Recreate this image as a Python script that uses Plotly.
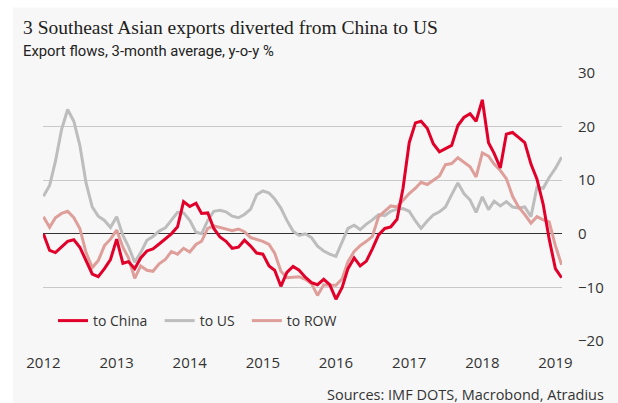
import pandas as pd
import plotly.graph_objects as go

# ---- data (monthly, Jan 2012 - Feb 2019, 3-month avg y-o-y %) ----
dates = pd.date_range("2012-01-01", periods=86, freq="MS")

to_china = [
    0.0, -3.1, -3.5, -2.5, -1.4, -1.1, -2.5, -5.0, -7.5, -8.0,
    -6.5, -4.8, -1.0, -5.5, -5.2, -6.5, -4.5, -3.2, -2.8, -1.9,
    -1.0, 0.0, 1.3, 6.0, 5.1, 5.7, 3.8, 3.9, 1.0, -0.6,
    -1.4, -2.7, -2.5, -1.2, -2.3, -3.6, -3.8, -6.0, -6.8, -9.8,
    -7.2, -6.1, -6.8, -8.1, -9.1, -9.5, -8.5, -9.5, -12.2, -10.0,
    -6.5, -4.5, -6.0, -5.1, -2.8, -0.2, 1.0, 1.3, 2.7, 8.5,
    17.0, 20.7, 21.0, 19.7, 16.8, 15.3, 15.9, 16.5, 20.2, 21.7,
    22.4, 21.0, 25.0, 17.0, 15.0, 12.3, 18.6, 18.9, 18.0, 17.0,
    13.0, 10.2, 5.5, -1.0, -6.5, -8.2,
]
to_us = [
    7.0, 9.0, 13.5, 19.5, 23.2, 21.0, 16.5, 9.5, 5.0, 3.3,
    2.5, 1.2, 3.2, -0.3, -2.4, -5.3, -3.5, -1.2, -0.5, 0.5,
    1.1, 2.6, 4.0, 3.9, 2.5, 0.3, 0.0, 2.5, 4.2, 4.4,
    4.1, 3.3, 3.0, 3.6, 4.6, 7.3, 8.0, 7.6, 6.5, 4.8,
    2.5, 0.5, -0.3, 0.0, -0.7, -2.3, -3.2, -3.8, -4.2, -1.5,
    1.0, 1.6, 0.8, 1.8, 2.6, 3.6, 3.4, 4.2, 4.6, 4.7,
    4.2, 2.4, 1.0, 2.4, 3.5, 4.1, 5.0, 7.3, 9.5, 7.5,
    6.3, 4.0, 6.9, 4.5, 6.1, 5.2, 6.0, 5.0, 4.8, 5.0,
    3.2, 8.7, 8.5, 10.5, 12.2, 14.3,
]
to_row = [
    3.2, 1.2, 3.0, 3.8, 4.2, 3.0, 1.0, -3.5, -6.3, -5.0,
    -2.2, -1.0, 0.7, -2.5, -4.5, -8.3, -6.0, -6.8, -7.0, -5.6,
    -4.8, -3.3, -3.8, -2.7, -3.4, -2.0, -1.4, 1.0, 1.5, 1.2,
    1.0, 0.6, 0.9, 0.4, -0.7, -1.1, -1.4, -2.0, -3.6, -7.0,
    -8.2, -8.1, -8.0, -8.5, -9.3, -11.5, -9.5, -9.6, -9.6, -8.4,
    -5.2, -3.3, -2.2, -1.4, -0.5, 3.2, 4.2, 5.2, 5.0, 6.2,
    7.5, 8.5, 9.6, 9.2, 10.0, 10.8, 12.9, 13.1, 14.2, 13.3,
    12.5, 10.6, 15.1, 14.5, 13.0, 11.8, 10.3, 7.0, 5.0, 3.6,
    2.0, 3.2, 2.6, 2.2, -2.2, -5.8,
]

series_names = ["to China", "to US", "to ROW"]
series_colors = ["#e1002a", "#bdbdbd", "#de9e9a"]
y_ticks = [-20, -10, 0, 10, 20, 30]

title_text = "3 Southeast Asian exports diverted from China to US"
subtitle_text = "Export flows, 3-month average, y-o-y %"
source_text = "Sources: IMF DOTS, Macrobond, Atradius"

# ---- layout geometry (pixels) ----
W, H = 618, 403
ML, MR, MT, MB = 43, 56, 73, 62
PW, PH = W - ML - MR, H - MT - MB


def px_x(px):
    return (px - ML) / PW


def px_y(py):
    return (H - MB - py) / PH


NBSP = "\u00a0"

fig = go.Figure()

# draw order: US (back), ROW, China (front); legend order China, US, ROW
order = [1, 2, 0]
all_vals = [to_china, to_us, to_row]
for k in order:
    fig.add_trace(go.Scatter(
        x=dates, y=all_vals[k], mode="lines", name=series_names[k] + NBSP * 2,
        line=dict(color=series_colors[k], width=3), legendrank=k + 1,
    ))

fig.update_layout(
    width=W, height=H,
    margin=dict(l=ML, r=MR, t=MT, b=MB, pad=0),
    paper_bgcolor="white",
    plot_bgcolor="rgba(0,0,0,0)",
    font=dict(family="Open Sans", size=15, color="#333333"),
    showlegend=True,
    legend=dict(
        orientation="h", x=px_x(53), y=px_y(321), xanchor="left", yanchor="middle",
        bgcolor="rgba(0,0,0,0)", font=dict(size=14, color="#333333"),
        traceorder="normal", itemwidth=30,
    ),
    xaxis=dict(
        type="date", range=["2011-12-30", "2019-02-03"],
        tick0="2012-01-01", dtick="M12", tickformat="%Y",
        showgrid=False, zeroline=False, showline=False,
        ticks="outside", ticklen=8, tickcolor="rgba(0,0,0,0)",
        tickfont=dict(size=15, color="#333333"),
    ),
    yaxis=dict(
        side="right", range=[-20, 30], tickvals=y_ticks,
        showgrid=True, gridcolor="#c9c9c9", gridwidth=1.2,
        zeroline=True, zerolinecolor="#333333", zerolinewidth=1.2,
        showline=False, ticks="outside", ticklen=12, tickcolor="rgba(0,0,0,0)",
        tickfont=dict(size=15, color="#333333"),
    ),
    shapes=[dict(
        type="rect", xref="paper", yref="paper", layer="below",
        x0=px_x(13), x1=px_x(W + 5), y0=px_y(H + 5), y1=px_y(7.5),
        fillcolor="#f7f7f7", line=dict(width=0),
    )],
    annotations=[
        dict(text=title_text, xref="paper", yref="paper", x=px_x(21), y=px_y(27),
             xanchor="left", yanchor="middle", showarrow=False,
             font=dict(family="Liberation Serif", size=19.5, color="#222222")),
        dict(text=subtitle_text, xref="paper", yref="paper", x=px_x(21), y=px_y(51),
             xanchor="left", yanchor="middle", showarrow=False,
             font=dict(family="Roboto", size=14.8, color="#222222")),
        dict(text=source_text, xref="paper", yref="paper", x=px_x(606), y=px_y(394),
             xanchor="right", yanchor="middle", showarrow=False,
             font=dict(family="Open Sans", size=14.5, color="#333333")),
    ],
)

fig.write_html("out.html")
